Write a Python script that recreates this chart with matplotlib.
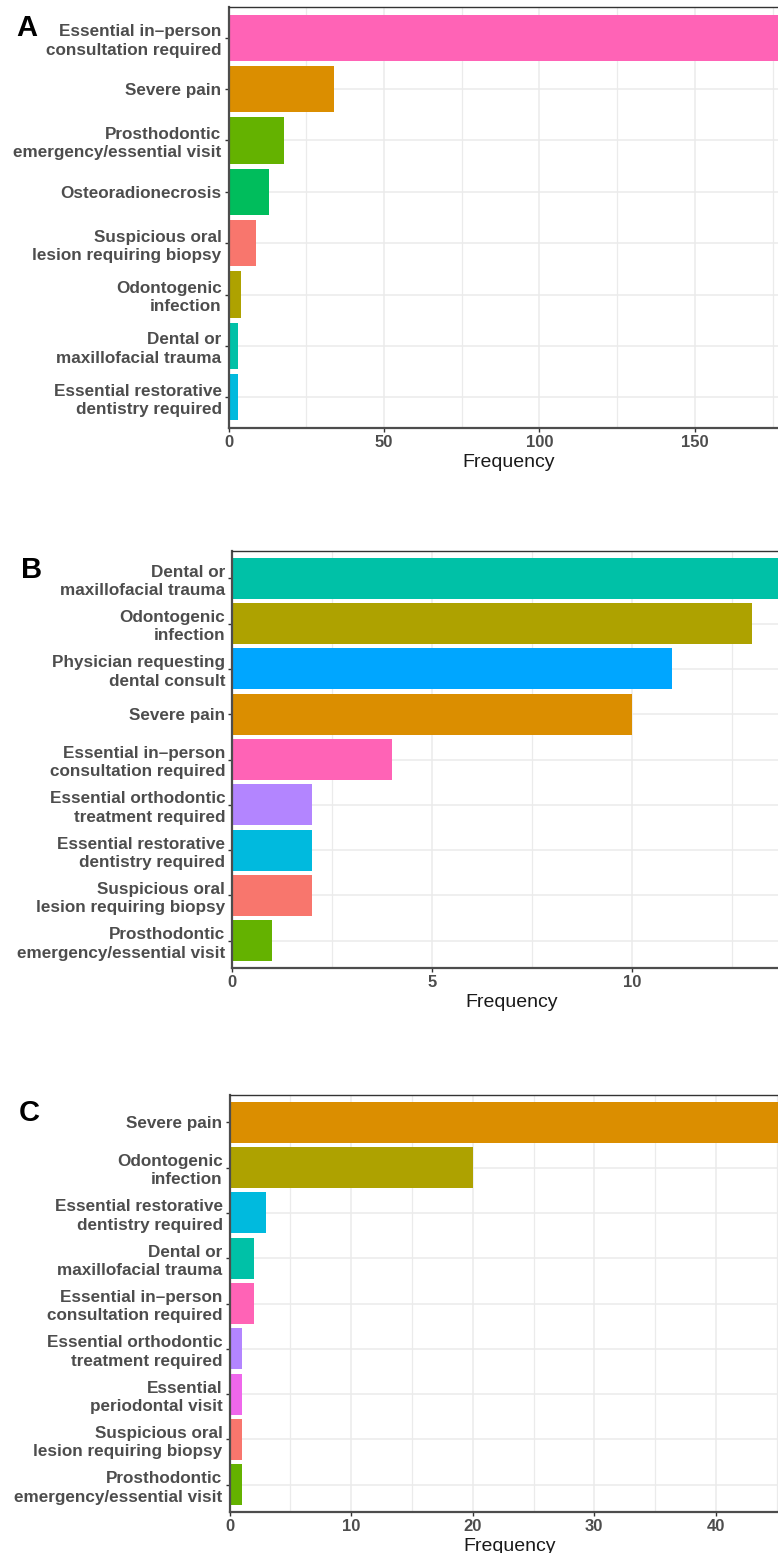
import matplotlib
matplotlib.use("Agg")
import matplotlib.pyplot as plt
from matplotlib.ticker import MultipleLocator

# ---- data ----
cats_a = ["Essential in\u2013person\nconsultation required", "Severe pain",
          "Prosthodontic\nemergency/essential visit", "Osteoradionecrosis",
          "Suspicious oral\nlesion requiring biopsy", "Odontogenic\ninfection",
          "Dental or\nmaxillofacial trauma", "Essential restorative\ndentistry required"]
vals_a = [180, 34, 18, 13, 9, 4, 3, 3]

cats_b = ["Dental or\nmaxillofacial trauma", "Odontogenic\ninfection",
          "Physician requesting\ndental consult", "Severe pain",
          "Essential in\u2013person\nconsultation required",
          "Essential orthodontic\ntreatment required",
          "Essential restorative\ndentistry required",
          "Suspicious oral\nlesion requiring biopsy",
          "Prosthodontic\nemergency/essential visit"]
vals_b = [14, 13, 11, 10, 4, 2, 2, 2, 1]

cats_c = ["Severe pain", "Odontogenic\ninfection",
          "Essential restorative\ndentistry required",
          "Dental or\nmaxillofacial trauma",
          "Essential in\u2013person\nconsultation required",
          "Essential orthodontic\ntreatment required",
          "Essential\nperiodontal visit",
          "Suspicious oral\nlesion requiring biopsy",
          "Prosthodontic\nemergency/essential visit"]
vals_c = [46, 20, 3, 2, 2, 1, 1, 1, 1]

# ggplot hue palette, one colour per reason
palette = {
    "Suspicious oral": "#F8766D",
    "Severe pain": "#DB8E00",
    "Odontogenic": "#AEA200",
    "Prosthodontic": "#64B200",
    "Osteoradionecrosis": "#00BD5C",
    "Dental or": "#00C1A7",
    "Essential restorative": "#00BADE",
    "Physician": "#00A6FF",
    "Essential orthodontic": "#B385FF",
    "Essential\nperiodontal": "#EF67EB",
    "Essential in": "#FF63B6",
}

W, H = 778, 1553


def colour_for(label):
    for key, col in palette.items():
        if label.startswith(key):
            return col
    return "grey"


def draw_panel(fig, cats, vals, left, top, bottom, px_per_unit, major, letter, letter_xy):
    right = left + max(vals) * px_per_unit
    ax = fig.add_axes([left / W, 1 - bottom / H, (right - left) / W, (bottom - top) / H])
    n = len(cats)
    ypos = [n - i for i in range(n)]
    ax.barh(ypos, vals, height=0.9, color=[colour_for(c) for c in cats], zorder=2)
    ax.set_xlim(0, max(vals))
    ax.set_ylim(0.4, n + 0.6)
    ax.set_yticks(ypos)
    ax.set_yticklabels(cats, fontsize=12.3, fontweight="bold", color="#4D4D4D",
                       family="Liberation Sans", linespacing=1.28)
    ax.xaxis.set_major_locator(MultipleLocator(major))
    ax.xaxis.set_minor_locator(MultipleLocator(major / 2))
    for lab in ax.get_xticklabels():
        lab.set_fontsize(12)
        lab.set_fontweight("bold")
        lab.set_color("#4D4D4D")
        lab.set_family("Liberation Sans")
    ax.set_xlabel("Frequency", fontsize=14, family="Liberation Sans", color="#1A1A1A", labelpad=3)
    ax.grid(True, which="major", color="#EBEBEB", lw=1.1, zorder=0)
    ax.grid(True, which="minor", axis="x", color="#EBEBEB", lw=0.9, zorder=0)
    ax.set_axisbelow(True)
    ax.tick_params(axis="both", which="major", length=3, width=1, color="#333333", pad=2)
    ax.tick_params(axis="x", which="minor", length=0)
    for side in ("left", "bottom"):
        ax.spines[side].set_color("#4D4D4D")
        ax.spines[side].set_linewidth(1.6)
    ax.spines["top"].set_color("#333333")
    ax.spines["top"].set_linewidth(1.0)
    ax.spines["right"].set_visible(False)
    fig.text(letter_xy[0] / W, 1 - letter_xy[1] / H, letter, fontsize=21, fontweight="bold",
             family="Liberation Sans", ha="left", va="top")
    return ax


fig = plt.figure(figsize=(W / 100, H / 100), dpi=100)

draw_panel(fig, cats_a, vals_a, 228.5, 7, 428, 3.109, 50, "A", (16, 14))
draw_panel(fig, cats_b, vals_b, 232.3, 551, 968, 39.96, 5, "B", (21, 556))
draw_panel(fig, cats_c, vals_c, 229.5, 1095, 1512, 12.16, 10, "C", (19, 1099))

fig.savefig("out.png", dpi=100)
